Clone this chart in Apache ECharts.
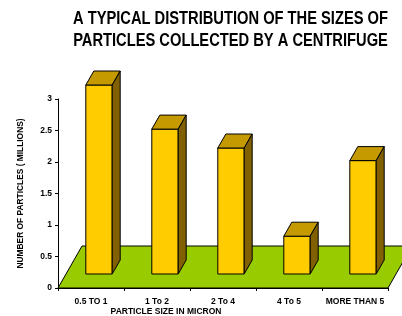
<!DOCTYPE html>
<html>
<head>
<meta charset="utf-8">
<script src="https://cdn.jsdelivr.net/npm/echarts@6/dist/echarts.min.js"></script>
<style>
html,body{margin:0;padding:0;background:#fff;}
#main{width:402px;height:316px;}
</style>
</head>
<body>
<div id="main"></div>
<script>
const categories = ['0.5 TO 1', '1 To 2', '2 To 4', '4 To 5', 'MORE THAN 5'];
const particleCounts = [3.0, 2.3, 2.0, 0.6, 1.8];
const yTicks = { min: 0, max: 3, interval: 0.5 };
const titleLines = ['A TYPICAL DISTRIBUTION OF THE SIZES OF', 'PARTICLES COLLECTED BY A CENTRIFUGE'];
const xAxisName = 'PARTICLE SIZE IN MICRON';
const yAxisName = 'NUMBER OF PARTICLES ( MILLIONS)';

const FONT = "'Liberation Sans',Arial,sans-serif";
const DEPTH_X = 24, DEPTH_Y = -42;

const chart = echarts.init(document.getElementById('main'), null, { renderer: 'canvas' });

function floorItem(params, api) {
  const band = api.size([1, 0])[0];
  const p0 = api.coord([0, 0]);
  const p1 = api.coord([categories.length - 1, 0]);
  const x0 = p0[0] - band / 2, x1 = p1[0] + band / 2, y0 = p0[1];
  return {
    type: 'polygon',
    shape: { points: [[x0, y0], [x1, y0], [x1 + DEPTH_X, y0 + DEPTH_Y], [x0 + DEPTH_X, y0 + DEPTH_Y]] },
    style: { fill: '#99CC00', stroke: '#000', lineWidth: 1 }
  };
}

function barItem(params, api) {
  const i = api.value(0), v = api.value(1);
  const base = api.coord([i, 0]);
  const top = api.coord([i, v]);
  const band = api.size([1, 0])[0];
  const w = band * 0.4;
  const fx = DEPTH_X / 3, fy = DEPTH_Y / 3;
  const cx = base[0] + fx;
  const L = cx - w / 2, R = cx + w / 2;
  const B = base[1] + fy, T = top[1] + fy;
  const st = { stroke: '#000', lineWidth: 1, lineJoin: 'round' };
  return {
    type: 'group',
    children: [
      { type: 'polygon', shape: { points: [[L, B], [R, B], [R, T], [L, T]] }, style: Object.assign({ fill: '#FFCC00' }, st) },
      { type: 'polygon', shape: { points: [[L, T], [R, T], [R + fx, T + fy], [L + fx, T + fy]] }, style: Object.assign({ fill: '#C49A00' }, st) },
      { type: 'polygon', shape: { points: [[R, B], [R, T], [R + fx, T + fy], [R + fx, B + fy]] }, style: Object.assign({ fill: '#806000' }, st) }
    ]
  };
}

const titleStyle = { fontFamily: FONT, fontWeight: 'bold', fontSize: 18, fill: '#000', textAlign: 'center', textVerticalAlign: 'middle' };

chart.setOption({
  animation: false,
  backgroundColor: '#fff',
  graphic: titleLines.map((t, k) => ({
    type: 'text',
    x: 230.5,
    y: 19.5 + k * 21.8,
    scaleX: 0.816,
    style: Object.assign({ text: t }, titleStyle)
  })),
  grid: { left: 58, right: 14, top: 99, bottom: 28, containLabel: false, outerBoundsMode: 'none' },
  xAxis: {
    type: 'category',
    data: categories,
    name: xAxisName,
    nameLocation: 'middle',
    nameGap: 19,
    nameMoveOverlap: false,
    nameTextStyle: { fontFamily: FONT, fontWeight: 'bold', fontSize: 8.5, color: '#000', padding: [0, 114, 0, 0] },
    axisLine: { lineStyle: { color: '#000', width: 1 } },
    axisTick: { show: true, length: 3, inside: false, lineStyle: { color: '#000' } },
    axisLabel: { fontFamily: FONT, fontWeight: 'bold', fontSize: 8.5, color: '#000', margin: 9, interval: 0 }
  },
  yAxis: {
    type: 'value',
    min: yTicks.min, max: yTicks.max, interval: yTicks.interval,
    name: yAxisName,
    nameLocation: 'middle',
    nameGap: 33,
    nameMoveOverlap: false,
    nameTextStyle: { fontFamily: FONT, fontWeight: 'bold', fontSize: 8.4, color: '#000' },
    axisLine: { show: true, lineStyle: { color: '#000', width: 1 } },
    axisTick: { show: true, length: 3, lineStyle: { color: '#000' } },
    axisLabel: { fontFamily: FONT, fontWeight: 'bold', fontSize: 8.5, color: '#000', margin: 6 },
    splitLine: { show: false }
  },
  series: [
    { type: 'custom', name: 'floor', data: [[0, 0]], renderItem: floorItem, z: 1, silent: true },
    { type: 'custom', name: 'particles', data: particleCounts.map((v, i) => [i, v]), renderItem: barItem, z: 3 }
  ]
});
</script>
</body>
</html>
